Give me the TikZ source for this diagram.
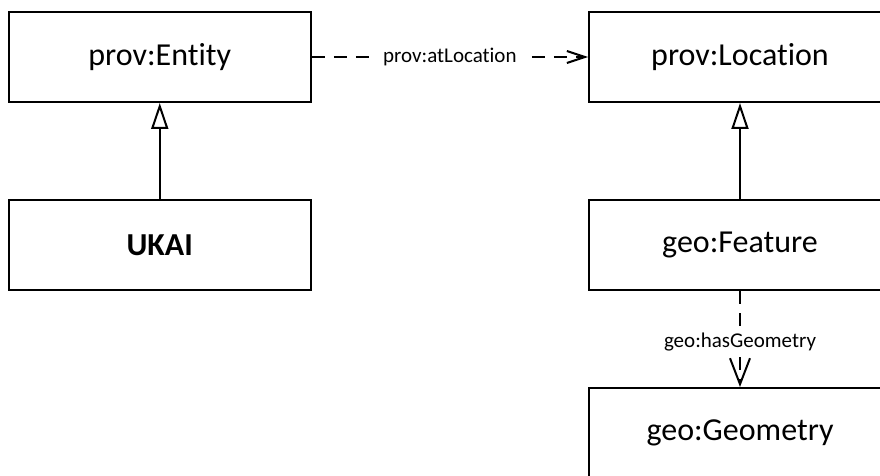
\documentclass[tikz,border=0pt]{standalone}
\usepackage{fontspec}
\setmainfont{Carlito}[Ligatures=NoCommon]
\usetikzlibrary{arrows.meta}
\begin{document}
\begin{tikzpicture}[x=1pt,y=-1pt,
  cls/.style={draw=black, line width=2pt, fill=white, minimum width=302pt, minimum height=90pt, inner sep=0pt, font=\fontsize{32}{38}\selectfont},
  lbl/.style={fill=white, inner xsep=7pt, inner ysep=3pt, font=\fontsize{21}{25}\selectfont},
  gen/.style={line width=2pt, -{Triangle[open, length=26pt, width=17pt, line width=2pt]}},
  dep/.style={line width=2pt, dash pattern=on 13pt off 9pt},
  headh/.style={-{Straight Barb[length=18pt, width=12pt, line width=2pt]}},
  headv/.style={-{Straight Barb[length=26pt, width=20pt, line width=2pt]}}
]
\useasboundingbox (0,0) rectangle (880,476);
\clip (0,0) rectangle (880,476);
\fill[white] (0,0) rectangle (880,476);
\node[cls] (E) at (159.75,57) {prov:Entity};
\node[cls] (U) at (159.75,245) {\textbf{UKAI}};
\node[cls] (L) at (740,57) {prov:Location};
\node[cls] (F) at (740,245) {geo:Feature};
\node[cls] (G) at (740,433) {geo:Geometry};
\draw[gen] (U) -- (E);
\draw[gen] (F) -- (L);
\draw[dep, headh] (E) -- node[lbl] {prov:atLocation} (L);
\draw[dep, headv] (F) -- node[lbl, pos=0.53] {geo:hasGeometry} (G);
\end{tikzpicture}
\end{document}
